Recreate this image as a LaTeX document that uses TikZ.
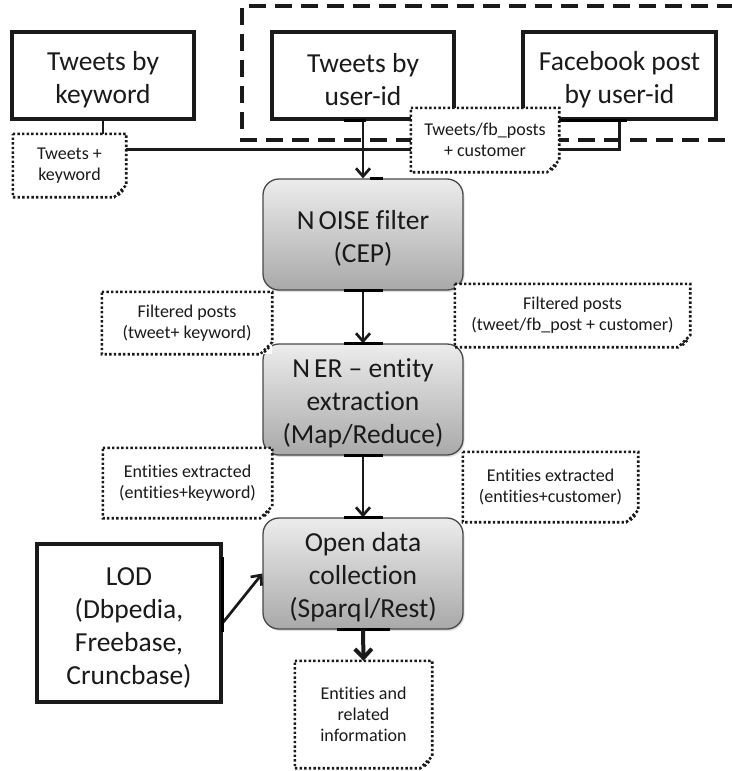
\documentclass[tikz,border=0pt]{standalone}
\usepackage{fontspec}
\setmainfont{Carlito}[Ligatures=CommonOff]
\usetikzlibrary{arrows.meta,shadows}
\definecolor{ink}{HTML}{1A1A1A}
\definecolor{shadetop}{HTML}{ECECEC}
\definecolor{shadebot}{HTML}{A9A9A9}
% extra room above the first line of the large labels
\newcommand{\toppad}{\rule{0pt}{27pt}}
\begin{document}
\begin{tikzpicture}[x=1pt,y=-1pt,
  every node/.style={text=ink},
  bigtext/.style={font=\fontsize{27.5}{33}\selectfont},
  srcbox/.style={bigtext,draw=ink,line width=3.2pt,fill=white,align=center,
    inner sep=0pt,minimum height=87pt},
  procbox/.style={bigtext,draw=ink!80,line width=1.3pt,rounded corners=16pt,
    top color=shadetop,bottom color=shadebot,align=center,inner sep=0pt,
    minimum width=200pt,minimum height=111pt,
    drop shadow={shadow xshift=1.5pt,shadow yshift=-2pt,opacity=0.25}},
  note/.style={font=\fontsize{18}{21}\selectfont,fill=white,align=center,inner sep=0pt},
  notedots/.style={draw=ink,line width=2.6pt,dash pattern=on 2.4pt off 2.2pt},
  groupdash/.style={draw=ink,line width=3.3pt,dash pattern=on 17pt off 9pt},
  link/.style={draw=ink,line width=2.9pt},
  flow/.style={draw=ink,line width=2.7pt,-{Straight Barb[length=8pt,width=14pt,line width=2.7pt]}},
  bigflow/.style={draw=ink,line width=4pt,-{Straight Barb[length=9pt,width=17pt,line width=4pt]}},
  glue/.style={draw=black,line width=3.6pt},
]
\useasboundingbox (0,0) rectangle (731,771);

% group frame around the user-id sources
\draw[groupdash] (760,6) -| (242,140) -- (760,140);

% sources
\node[srcbox,minimum width=182pt] (kw)  at (103,75.5)   {\toppad Tweets by\\keyword};
\node[srcbox,minimum width=182pt] (uid) at (363,75.5)   {\toppad Tweets by\\user-id};
\node[srcbox,minimum width=193pt] (fb)  at (619.5,75.5) {\toppad Facebook post\\by user-id};
\node[srcbox,minimum width=184pt,minimum height=158pt] (lod) at (129,623)
  {\toppad LOD\\(Dbpedia,\\Freebase,\\Cruncbase)};

% processing stages
\node[procbox] (noise) at (363,234.5) {\toppad N\kern4pt OISE filter\\(CEP)};
\node[procbox] (ner)   at (363,399.5) {\toppad N\kern4pt ER -- entity\\extraction\\(Map/Reduce)};
\node[procbox] (open)  at (363,573.5) {\toppad Open data\\collection\\(Sparq\kern2pt l/Rest)};

% merging the inputs
\coordinate (j) at (363,149.5);
\draw[link] (kw.south) |- (j);
\draw[link] (fb.south) |- (j);
\draw[glue] ([xshift=-62pt]fb.south) -- ([xshift=7pt]fb.south);
\draw[glue] ([xshift=-19pt]uid.south) -- ([xshift=3pt]uid.south);

% main flow
\draw[flow] (uid.south) -- (noise.north);
\draw[flow] (noise.south) -- (ner.north);
\draw[flow] (ner.south) -- (open.north);
\draw[flow] (lod.east) -- (open.west);

% glue points on the stages
\draw[glue] ([xshift=7pt]noise.north) -- ([xshift=20pt]noise.north);
\foreach \s in {noise.south,ner.north,ner.south,open.north}
  \draw[glue] ([xshift=-19pt]\s) -- ([xshift=20pt]\s);
\draw[glue] ([xshift=-26pt]open.south) -- ([xshift=27pt]open.south);
\draw[glue] ([yshift=66pt]lod.east) -- ([yshift=-9pt]lod.east);

% data notes
\node[note,minimum width=113pt,minimum height=63pt] (tk)  at (69.5,165.5) {Tweets +\\keyword};
\node[note,minimum width=148pt,minimum height=64pt] (tf)  at (485,140)    {Tweets/fb\_posts\\+ customer};
\node[note,minimum width=170pt,minimum height=62pt] (fpl) at (187,323)    {Filtered posts\\(tweet+ keyword)};
\node[note,minimum width=235pt,minimum height=63pt] (fpr) at (572.5,315.5){Filtered posts\\(tweet/fb\_post + customer)};
\node[note,minimum width=169pt,minimum height=70pt] (eel) at (187.5,483)  {Entities extracted\\(entities+keyword)};
\node[note,minimum width=175pt,minimum height=70pt] (eer) at (550.5,487)  {Entities extracted\\(entities+customer)};
\node[note,minimum width=137pt,minimum height=107pt] (er) at (363.5,714.5) {Entities and\\related\\information};

% dotted outlines with a folded corner
\foreach \n in {tk,tf,fpl,fpr,eel,eer,er}{
  \draw[notedots] (\n.north west) -- (\n.north east) -- ([yshift=12pt]\n.south east)
    -- ([xshift=-12pt]\n.south east) -- (\n.south west) -- cycle;
  \draw[notedots] ([xshift=-8pt,yshift=2pt]\n.south east) -- ([xshift=-3pt,yshift=7pt]\n.south east);
}

\draw[bigflow] (open.south) -- (er.north);
\end{tikzpicture}
\end{document}
